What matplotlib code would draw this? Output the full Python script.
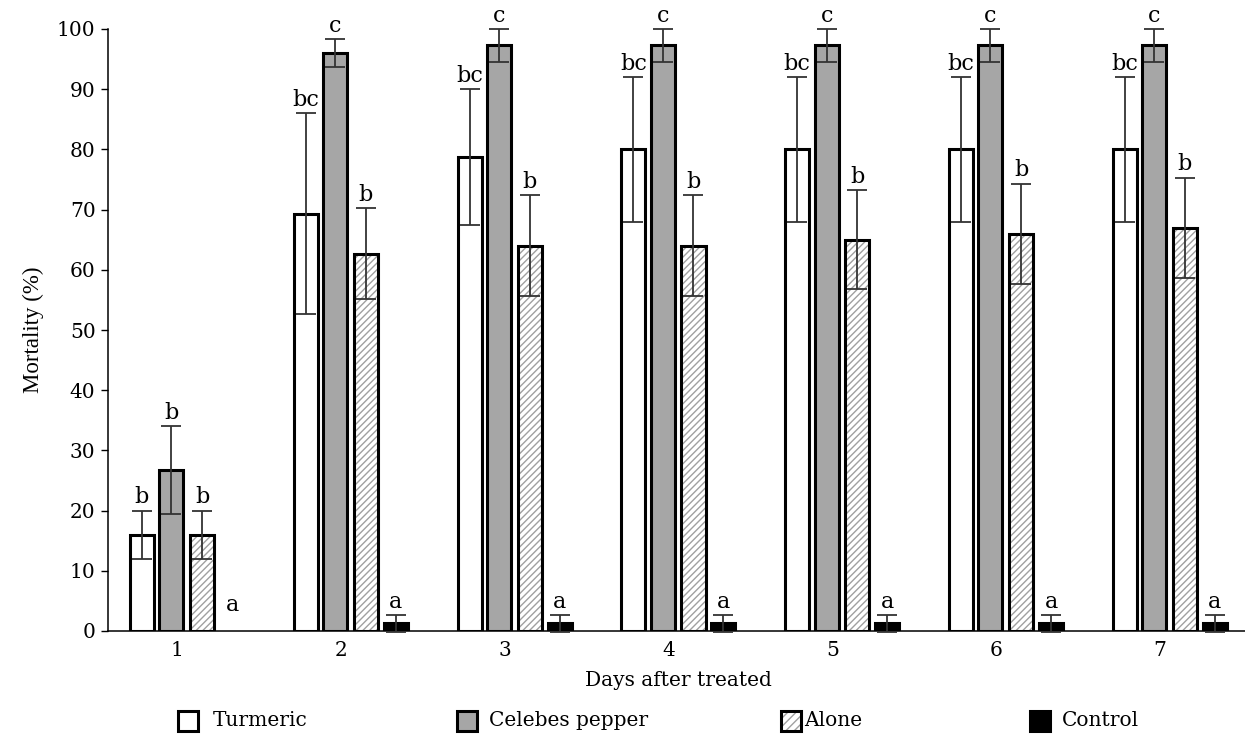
import numpy as np
import matplotlib
matplotlib.use('Agg')
import matplotlib.pyplot as plt
from matplotlib.patches import Rectangle

days = [1, 2, 3, 4, 5, 6, 7]
series = ['Turmeric', 'Celebes pepper', 'Alone', 'Control']

turmeric = [16.0, 69.3, 78.7, 80.0, 80.0, 80.0, 80.0]
turmeric_err = [4.0, 16.7, 11.3, 12.0, 12.0, 12.0, 12.0]
celebes = [26.7, 96.0, 97.3, 97.3, 97.3, 97.3, 97.3]
celebes_err = [7.3, 2.3, 2.7, 2.7, 2.7, 2.7, 2.7]
alone = [16.0, 62.7, 64.0, 64.0, 65.0, 66.0, 67.0]
alone_err = [4.0, 7.5, 8.4, 8.4, 8.2, 8.3, 8.3]
control = [0.0, 1.3, 1.3, 1.3, 1.3, 1.3, 1.3]
control_err = [0.0, 1.4, 1.4, 1.4, 1.4, 1.4, 1.4]

turmeric_lbl = ['b', 'bc', 'bc', 'bc', 'bc', 'bc', 'bc']
celebes_lbl = ['b', 'c', 'c', 'c', 'c', 'c', 'c']
alone_lbl = ['b'] * 7
control_lbl = ['a'] * 7

W, H = 1245, 743
fig = plt.figure(figsize=(W / 100, H / 100), dpi=100)
ax = fig.add_axes([108 / W, 112 / H, 1 - 108 / W, 602 / H])

serif = 'DejaVu Serif'
fs = 14.5

x = np.array(days, dtype=float)
offsets = [-0.214, -0.034, 0.153, 0.336]
width = 0.147

vals = [turmeric, celebes, alone, control]
errs = [turmeric_err, celebes_err, alone_err, control_err]
lbls = [turmeric_lbl, celebes_lbl, alone_lbl, control_lbl]
fills = ['white', '#a6a6a6', 'white', 'black']

for k in range(4):
    xs = x + offsets[k]
    v = np.array(vals[k])
    lw = [2.2 if vi > 0 else 0 for vi in v]
    if k == 2:
        # hatch in grey, outline in black drawn separately
        ax.bar(xs, v, width, color='white', edgecolor='#a0a0a0',
               hatch='/////', linewidth=0, zorder=2)
        ax.bar(xs, v, width, fill=False, edgecolor='black',
               linewidth=lw, zorder=3)
    else:
        ax.bar(xs, v, width, color=fills[k], edgecolor='black',
               linewidth=lw, zorder=3)
    e = np.array(errs[k])
    m = e > 0
    ax.errorbar(xs[m], v[m], yerr=e[m], fmt='none', ecolor='#333333',
                elinewidth=1.3, capsize=7.5, capthick=1.3, zorder=4,
                clip_on=False)
    for xi, vi, ei, t in zip(xs, v, e, lbls[k]):
        top = max(vi + ei, 2.2)
        ax.text(xi, top + 1.2, t, ha='center', va='baseline',
                fontsize=fs + 1.5, family=serif, clip_on=False)

ax.set_xlim(1 - 69 / 163.8, 1 - 69 / 163.8 + 1137 / 163.8)
ax.set_ylim(0, 100)
ax.set_yticks(np.arange(0, 101, 10))
ax.set_xticks(days)
ax.set_xticklabels([str(d) for d in days])
ax.tick_params(axis='x', length=0, pad=7, labelsize=fs)
ax.tick_params(axis='y', length=5, width=1, direction='out', pad=4,
               labelsize=fs)
for lab in ax.get_xticklabels() + ax.get_yticklabels():
    lab.set_family(serif)
ax.spines['top'].set_visible(False)
ax.spines['right'].set_visible(False)
ax.spines['left'].set_linewidth(1.1)
ax.spines['bottom'].set_linewidth(1.1)

ax.set_ylabel('Mortality (%)', fontsize=fs + 2, family='Liberation Serif',
              labelpad=9)
fig.text(678 / W, 1 - 681 / H, 'Days after treated', ha='center',
         va='center', fontsize=fs, family=serif)

# legend drawn by hand to follow the uneven spacing
leg_boxes = [178, 457, 781, 1030]
leg_text = [213, 489, 804, 1062]
by = 1 - 731 / H
for k in range(4):
    if k == 2:
        fig.add_artist(Rectangle((leg_boxes[k] / W, by), 20 / W, 20 / H,
                                 transform=fig.transFigure,
                                 facecolor='white', edgecolor='#a0a0a0',
                                 hatch='////', linewidth=0))
        fig.add_artist(Rectangle((leg_boxes[k] / W, by), 20 / W, 20 / H,
                                 transform=fig.transFigure, fill=False,
                                 edgecolor='black', linewidth=2.2))
    else:
        fig.add_artist(Rectangle((leg_boxes[k] / W, by), 20 / W, 20 / H,
                                 transform=fig.transFigure,
                                 facecolor=fills[k], edgecolor='black',
                                 linewidth=2.2))
    fig.text(leg_text[k] / W, by + 10 / H, series[k], ha='left',
             va='center', fontsize=fs, family=serif)

fig.savefig('out.png', dpi=100)
